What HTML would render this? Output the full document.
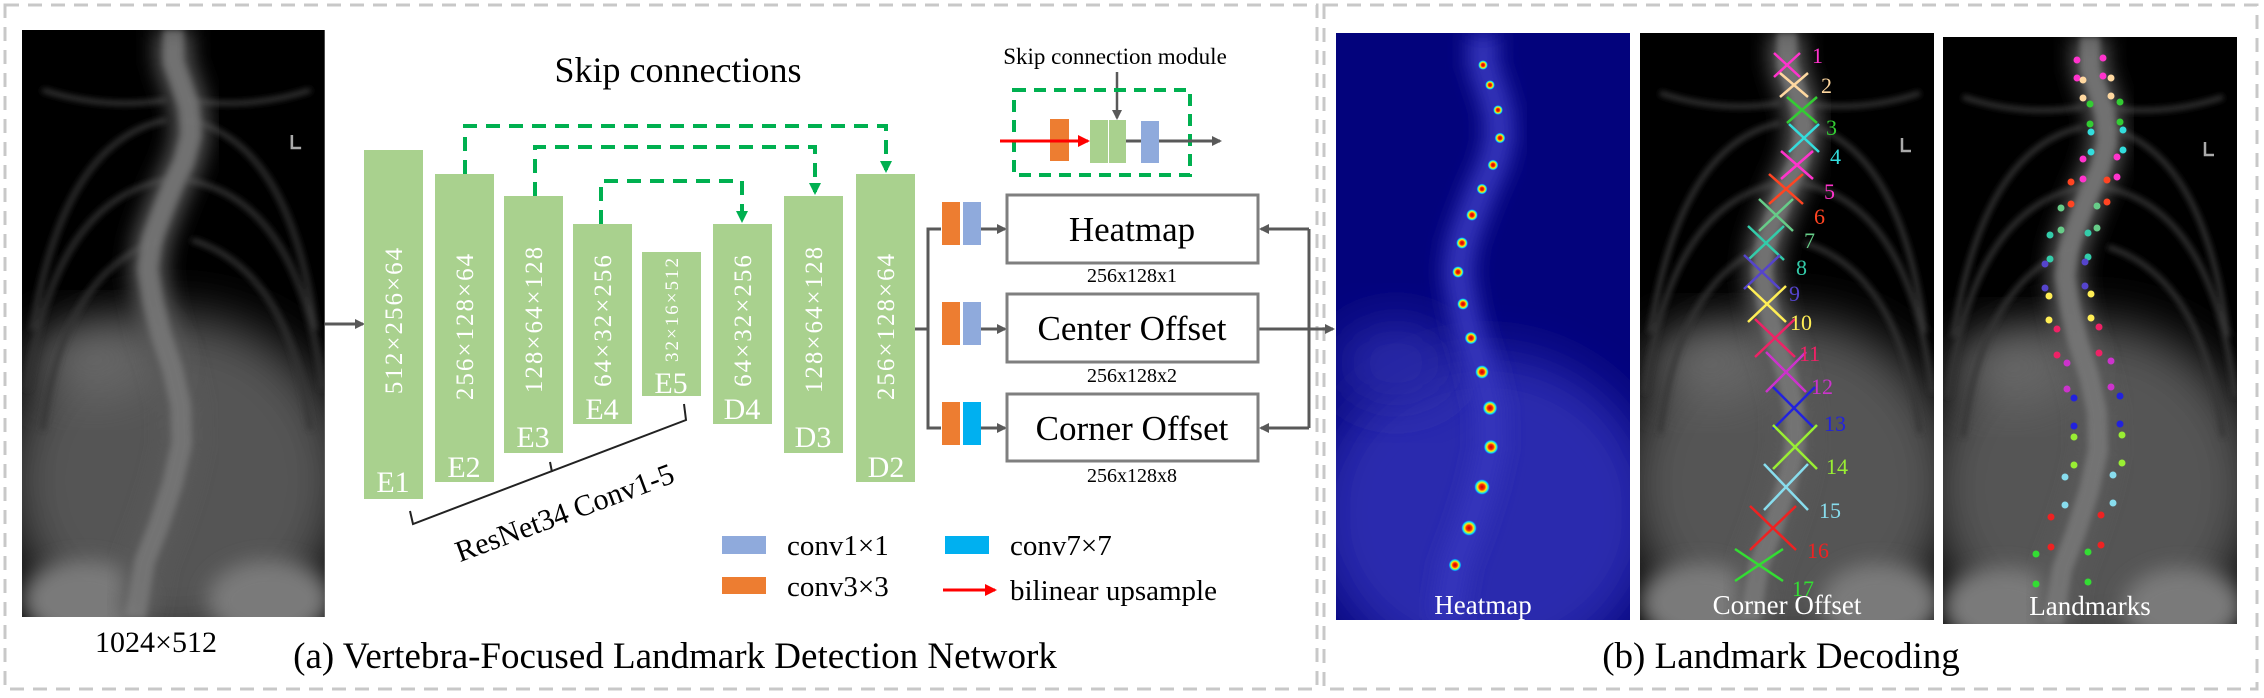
<!DOCTYPE html>
<html><head><meta charset="utf-8"><style>
html,body{margin:0;padding:0;background:#fff;}
svg{display:block;}
text{font-family:"Liberation Serif",serif;}
.s{font-family:"Liberation Sans",sans-serif;}
</style></head><body>
<svg width="2264" height="698" viewBox="0 0 2264 698" xmlns="http://www.w3.org/2000/svg">
<defs>
<filter id="b3" x="-50%" y="-50%" width="200%" height="200%"><feGaussianBlur stdDeviation="3"/></filter>
<filter id="b10" x="-50%" y="-50%" width="200%" height="200%"><feGaussianBlur stdDeviation="10"/></filter>
<filter id="b25" x="-50%" y="-50%" width="200%" height="200%"><feGaussianBlur stdDeviation="25"/></filter>
<clipPath id="cl"><rect x="0" y="0" width="294" height="587"/></clipPath>
<marker id="ag" markerWidth="10" markerHeight="10" refX="8" refY="5" orient="auto" markerUnits="userSpaceOnUse"><path d="M0,0 L10,5 L0,10 z" fill="#595959"/></marker>
<marker id="agr" markerWidth="12" markerHeight="12" refX="9" refY="6" orient="auto" markerUnits="userSpaceOnUse"><path d="M0,0 L12,6 L0,12 z" fill="#00b050"/></marker>
<marker id="ar" markerWidth="12" markerHeight="12" refX="10" refY="6" orient="auto" markerUnits="userSpaceOnUse"><path d="M0,0 L12,6 L0,12 z" fill="#ff0000"/></marker>
<radialGradient id="hd"><stop offset="0" stop-color="#c00000"/><stop offset="0.35" stop-color="#ff3000"/><stop offset="0.55" stop-color="#ffee00"/><stop offset="0.8" stop-color="#00e0ff"/><stop offset="1" stop-color="#2040ff" stop-opacity="0"/></radialGradient>
<g id="xr">
<g clip-path="url(#cl)">
<rect width="294" height="587" fill="#000"/>
<ellipse cx="150" cy="450" rx="165" ry="165" fill="#545454" filter="url(#b25)"/>
<ellipse cx="70" cy="330" rx="60" ry="35" fill="#6a6a6a" filter="url(#b25)"/>
<ellipse cx="60" cy="570" rx="60" ry="40" fill="#7a7a7a" filter="url(#b10)"/>
<ellipse cx="240" cy="570" rx="60" ry="40" fill="#7a7a7a" filter="url(#b10)"/>
<g fill="none" stroke="#363636" stroke-width="5" filter="url(#b3)">
<path d="M140,90 Q40,110 10,300"/><path d="M160,90 Q260,110 285,300"/>
<path d="M140,150 Q30,170 5,360"/><path d="M160,150 Q270,170 292,360"/>
<path d="M135,210 Q40,240 20,400"/><path d="M165,210 Q260,240 280,400"/>
<path d="M20,60 Q80,80 140,70"/><path d="M280,60 Q220,80 160,70"/>
</g>
<path d="M147,0 L147,32 L154,52 L162,77 L164,105 L157,132 L146,156 L136,182 L126,210 L122,239 L127,271 L135,305 L146,339 L154,375 L155,414 L146,454 L133,495 L119,532 L110,587" fill="none" stroke="#5a5a5a" stroke-width="34" filter="url(#b10)"/>
<path d="M147,0 L147,32 L154,52 L162,77 L164,105 L157,132 L146,156 L136,182 L126,210 L122,239 L127,271 L135,305 L146,339 L154,375 L155,414 L146,454 L133,495 L119,532 L110,587" fill="none" stroke="#858585" stroke-width="20" filter="url(#b3)" opacity="0.6"/>
<path d="M262,105 V118 H271" fill="none" stroke="#aaa" stroke-width="2.5"/>
</g>
</g>
</defs>

<rect x="5" y="5" width="1312" height="684" fill="none" stroke="#c8c8c8" stroke-width="3" stroke-dasharray="14,9"/>
<rect x="1324" y="5" width="933" height="684" fill="none" stroke="#c8c8c8" stroke-width="3" stroke-dasharray="14,9"/>

<use href="#xr" transform="translate(22,30) scale(1.03,1)"/>
<text x="156" y="652" font-size="30" text-anchor="middle">1024×512</text>
<line x1="325" y1="324" x2="363" y2="324" stroke="#595959" stroke-width="3" marker-end="url(#ag)"/>

<g fill="#a9d18e">
<rect x="364" y="150" width="59" height="349"/>
<rect x="435" y="174" width="59" height="308"/>
<rect x="504" y="196" width="59" height="257"/>
<rect x="573" y="224" width="59" height="200"/>
<rect x="642" y="252" width="59" height="144"/>
<rect x="713" y="224" width="59" height="200"/>
<rect x="784" y="196" width="59" height="257"/>
<rect x="856" y="174" width="59" height="308"/>
</g>
<g fill="#fff" class="s" font-family="Liberation Sans, sans-serif" font-size="25" text-anchor="middle" letter-spacing="2">
<text transform="translate(402,320) rotate(-90)">512×256×64</text>
<text transform="translate(473,326) rotate(-90)">256×128×64</text>
<text transform="translate(542,319) rotate(-90)">128×64×128</text>
<text transform="translate(611,320) rotate(-90)">64×32×256</text>
<text transform="translate(678,309) rotate(-90)" font-size="19">32×16×512</text>
<text transform="translate(751,320) rotate(-90)">64×32×256</text>
<text transform="translate(822,319) rotate(-90)">128×64×128</text>
<text transform="translate(894,326) rotate(-90)">256×128×64</text>
</g>
<g fill="#fff" font-size="30" text-anchor="middle">
<text x="393" y="492">E1</text>
<text x="464" y="477">E2</text>
<text x="533" y="447">E3</text>
<text x="602" y="419">E4</text>
<text x="671" y="393">E5</text>
<text x="742" y="419">D4</text>
<text x="813" y="447">D3</text>
<text x="886" y="477">D2</text>
</g>

<text x="678" y="82" font-size="36" text-anchor="middle">Skip connections</text>
<g fill="none" stroke="#00b050" stroke-width="4" stroke-dasharray="14,9">
<path d="M465,174 V126 H886 V170" marker-end="url(#agr)"/>
<path d="M535,196 V147 H815 V192" marker-end="url(#agr)"/>
<path d="M601,224 V181 H742 V220" marker-end="url(#agr)"/>
</g>

<text x="1115" y="64" font-size="23" text-anchor="middle">Skip connection module</text>
<line x1="1117" y1="72" x2="1117" y2="118" stroke="#595959" stroke-width="2.5" marker-end="url(#ag)"/>
<rect x="1014" y="90" width="176" height="85" fill="none" stroke="#00b050" stroke-width="4" stroke-dasharray="12,8"/>
<rect x="1050" y="119" width="19" height="42" fill="#ed7d31"/>
<rect x="1090" y="120" width="18" height="43" fill="#a9d18e"/>
<rect x="1109" y="120" width="17" height="43" fill="#a9d18e"/>
<rect x="1141" y="121" width="18" height="42" fill="#8faadc"/>
<line x1="1000" y1="141" x2="1088" y2="141" stroke="#ff0000" stroke-width="3" marker-end="url(#ar)"/>
<line x1="1126" y1="141" x2="1220" y2="141" stroke="#595959" stroke-width="3" marker-end="url(#ag)"/>
<rect x="1141" y="121" width="18" height="42" fill="#8faadc"/>

<g stroke="#595959" stroke-width="3" fill="none">
<line x1="915" y1="329" x2="928" y2="329"/>
<path d="M941,229 H928 V428 H941"/>
<line x1="981" y1="229" x2="1005" y2="229" marker-end="url(#ag)"/>
<line x1="981" y1="329" x2="1005" y2="329" marker-end="url(#ag)"/>
<line x1="981" y1="428" x2="1005" y2="428" marker-end="url(#ag)"/>
<path d="M1309,229 V428"/>
<line x1="1309" y1="229" x2="1261" y2="229" marker-end="url(#ag)"/>
<line x1="1309" y1="428" x2="1261" y2="428" marker-end="url(#ag)"/>
<line x1="1258" y1="329" x2="1333" y2="329" marker-end="url(#ag)"/>
</g>
<g fill="#ed7d31"><rect x="942" y="202" width="18" height="43"/><rect x="942" y="302" width="18" height="43"/><rect x="942" y="402" width="18" height="43"/></g>
<rect x="963" y="202" width="18" height="43" fill="#8faadc"/>
<rect x="963" y="302" width="18" height="43" fill="#8faadc"/>
<rect x="963" y="402" width="18" height="43" fill="#00b0f0"/>
<g fill="#fff" stroke="#7f7f7f" stroke-width="3">
<rect x="1007" y="195" width="251" height="68"/>
<rect x="1007" y="294" width="251" height="68"/>
<rect x="1007" y="394" width="251" height="67"/>
</g>
<g font-size="35" text-anchor="middle">
<text x="1132" y="241">Heatmap</text>
<text x="1132" y="340">Center Offset</text>
<text x="1132" y="440">Corner Offset</text>
</g>
<g font-size="20" text-anchor="middle">
<text x="1132" y="282">256x128x1</text>
<text x="1132" y="382">256x128x2</text>
<text x="1132" y="482">256x128x8</text>
</g>

<path d="M410,511 L413,524 L686,420 L684,404" fill="none" stroke="#222" stroke-width="2"/>
<line x1="552" y1="472" x2="550" y2="462" stroke="#222" stroke-width="2"/>
<text transform="translate(568,522) rotate(-20.4)" font-size="30" text-anchor="middle">ResNet34 Conv1-5</text>

<rect x="722" y="536" width="44" height="18" fill="#8faadc"/>
<text x="787" y="555" font-size="29">conv1×1</text>
<rect x="945" y="536" width="44" height="18" fill="#00b0f0"/>
<text x="1010" y="555" font-size="29">conv7×7</text>
<rect x="722" y="577" width="44" height="17" fill="#ed7d31"/>
<text x="787" y="596" font-size="29">conv3×3</text>
<line x1="943" y1="590" x2="995" y2="590" stroke="#ff0000" stroke-width="3" marker-end="url(#ar)"/>
<text x="1010" y="600" font-size="29">bilinear upsample</text>

<text x="675" y="668" font-size="37" text-anchor="middle">(a) Vertebra-Focused Landmark Detection Network</text>

<g transform="translate(1336,33)">
<g clip-path="url(#cl)">
<rect width="294" height="587" fill="#03037c"/>
<ellipse cx="150" cy="480" rx="170" ry="160" fill="#2a2aae" filter="url(#b25)"/>
<ellipse cx="60" cy="330" rx="60" ry="40" fill="#2a2aa8" filter="url(#b25)"/>
<path d="M147,0 L147,32 L154,52 L162,77 L164,105 L157,132 L146,156 L136,182 L126,210 L122,239 L127,271 L135,305 L146,339 L154,375 L155,414 L146,454 L133,495 L119,532 L110,587" fill="none" stroke="#3434bc" stroke-width="30" filter="url(#b10)"/>
</g>
<g fill="url(#hd)">
<circle cx="147" cy="32" r="5"/><circle cx="154" cy="52" r="5"/><circle cx="162" cy="77" r="5"/><circle cx="164" cy="105" r="5.5"/><circle cx="157" cy="132" r="5.5"/><circle cx="146" cy="156" r="5.5"/><circle cx="136" cy="182" r="6"/><circle cx="126" cy="210" r="6"/><circle cx="122" cy="239" r="6"/><circle cx="127" cy="271" r="6"/><circle cx="135" cy="305" r="6.5"/><circle cx="146" cy="339" r="7"/><circle cx="154" cy="375" r="7.5"/><circle cx="155" cy="414" r="7.5"/><circle cx="146" cy="454" r="8"/><circle cx="133" cy="495" r="8"/><circle cx="119" cy="532" r="6.5"/>
</g>
<text x="147" y="581" font-size="27" fill="#fff" text-anchor="middle">Heatmap</text>
</g>

<g transform="translate(1640,33)">
<use href="#xr"/>
<g stroke-width="2.5" fill="none">
<g stroke="#ff33cc" transform="translate(147,32)"><path d="M-13,-12 L13,12 M-13,12 L13,-12"/></g>
<g stroke="#ffd8a0" transform="translate(154,52)"><path d="M-14,-12 L14,12 M-14,12 L14,-12"/></g>
<g stroke="#33cc33" transform="translate(162,77)"><path d="M-15,-13 L15,13 M-15,13 L15,-13"/></g>
<g stroke="#33dddd" transform="translate(164,105)"><path d="M-15,-14 L15,14 M-15,14 L15,-14"/></g>
<g stroke="#ff33cc" transform="translate(157,132)"><path d="M-16,-14 L16,14 M-16,14 L16,-14"/></g>
<g stroke="#ff4422" transform="translate(146,156)"><path d="M-17,-15 L17,15 M-17,15 L17,-15"/></g>
<g stroke="#66cc88" transform="translate(136,182)"><path d="M-17,-16 L17,16 M-17,16 L17,-16"/></g>
<g stroke="#33ccaa" transform="translate(126,210)"><path d="M-18,-17 L18,17 M-18,17 L18,-17"/></g>
<g stroke="#5544cc" transform="translate(122,239)"><path d="M-18,-17 L18,17 M-18,17 L18,-17"/></g>
<g stroke="#ffee55" transform="translate(127,271)"><path d="M-19,-18 L19,18 M-19,18 L19,-18"/></g>
<g stroke="#ee2266" transform="translate(135,305)"><path d="M-20,-19 L20,19 M-20,19 L20,-19"/></g>
<g stroke="#cc33cc" transform="translate(146,339)"><path d="M-20,-20 L20,20 M-20,20 L20,-20"/></g>
<g stroke="#2222dd" transform="translate(154,375)"><path d="M-21,-21 L21,21 M-21,21 L21,-21"/></g>
<g stroke="#99ee33" transform="translate(155,414)"><path d="M-22,-22 L22,22 M-22,22 L22,-22"/></g>
<g stroke="#88ddee" transform="translate(146,454)"><path d="M-22,-23 L22,23 M-22,23 L22,-23"/></g>
<g stroke="#ee2222" transform="translate(133,495)"><path d="M-23,-22 L23,22 M-23,22 L23,-22"/></g>
<g stroke="#33dd33" transform="translate(119,532)"><path d="M-24,-16 L24,16 M-24,16 L24,-16"/></g>
</g>
<g class="s" font-family="Liberation Sans, sans-serif" font-size="22">
<text x="172" y="30" fill="#ff33cc">1</text>
<text x="181" y="60" fill="#ffd8a0">2</text>
<text x="186" y="102" fill="#33cc33">3</text>
<text x="190" y="131" fill="#33dddd">4</text>
<text x="184" y="166" fill="#ff33cc">5</text>
<text x="174" y="191" fill="#ff4422">6</text>
<text x="164" y="215" fill="#66cc88">7</text>
<text x="156" y="242" fill="#33ccaa">8</text>
<text x="149" y="268" fill="#5544cc">9</text>
<text x="150" y="297" fill="#ffee55">10</text>
<text x="159" y="328" fill="#ee2266">11</text>
<text x="171" y="361" fill="#cc33cc">12</text>
<text x="184" y="398" fill="#2222dd">13</text>
<text x="186" y="441" fill="#99ee33">14</text>
<text x="179" y="485" fill="#88ddee">15</text>
<text x="167" y="525" fill="#ee2222">16</text>
<text x="152" y="563" fill="#33dd33">17</text>
</g>
<text x="147" y="581" font-size="27" fill="#fff" text-anchor="middle">Corner Offset</text>
</g>

<g transform="translate(1943,37)">
<use href="#xr"/>
<g>
<g fill="#ff33cc" transform="translate(147,32)"><circle cx="-13" cy="-9" r="3.5"/><circle cx="13" cy="-11" r="3.5"/><circle cx="-13" cy="9" r="3.5"/><circle cx="13" cy="7" r="3.5"/></g>
<g fill="#ffd8a0" transform="translate(154,52)"><circle cx="-14" cy="-9" r="3.5"/><circle cx="14" cy="-11" r="3.5"/><circle cx="-14" cy="9" r="3.5"/><circle cx="14" cy="7" r="3.5"/></g>
<g fill="#33cc33" transform="translate(162,77)"><circle cx="-15" cy="-10" r="3.5"/><circle cx="15" cy="-12" r="3.5"/><circle cx="-15" cy="10" r="3.5"/><circle cx="15" cy="8" r="3.5"/></g>
<g fill="#33dddd" transform="translate(164,105)"><circle cx="-16" cy="-10" r="3.5"/><circle cx="16" cy="-12" r="3.5"/><circle cx="-16" cy="10" r="3.5"/><circle cx="16" cy="8" r="3.5"/></g>
<g fill="#ff33cc" transform="translate(157,132)"><circle cx="-17" cy="-10" r="3.5"/><circle cx="17" cy="-12" r="3.5"/><circle cx="-17" cy="10" r="3.5"/><circle cx="17" cy="8" r="3.5"/></g>
<g fill="#ff4422" transform="translate(146,156)"><circle cx="-18" cy="-11" r="3.5"/><circle cx="18" cy="-13" r="3.5"/><circle cx="-18" cy="11" r="3.5"/><circle cx="18" cy="9" r="3.5"/></g>
<g fill="#66cc88" transform="translate(136,182)"><circle cx="-18" cy="-11" r="3.5"/><circle cx="18" cy="-13" r="3.5"/><circle cx="-18" cy="11" r="3.5"/><circle cx="18" cy="9" r="3.5"/></g>
<g fill="#33ccaa" transform="translate(126,210)"><circle cx="-19" cy="-12" r="3.5"/><circle cx="19" cy="-14" r="3.5"/><circle cx="-19" cy="12" r="3.5"/><circle cx="19" cy="10" r="3.5"/></g>
<g fill="#5544cc" transform="translate(122,239)"><circle cx="-20" cy="-12" r="3.5"/><circle cx="20" cy="-14" r="3.5"/><circle cx="-20" cy="12" r="3.5"/><circle cx="20" cy="10" r="3.5"/></g>
<g fill="#ffee55" transform="translate(127,271)"><circle cx="-21" cy="-12" r="3.5"/><circle cx="21" cy="-14" r="3.5"/><circle cx="-21" cy="12" r="3.5"/><circle cx="21" cy="10" r="3.5"/></g>
<g fill="#ee2266" transform="translate(135,305)"><circle cx="-21" cy="-13" r="3.5"/><circle cx="21" cy="-15" r="3.5"/><circle cx="-21" cy="13" r="3.5"/><circle cx="21" cy="11" r="3.5"/></g>
<g fill="#cc33cc" transform="translate(146,339)"><circle cx="-22" cy="-13" r="3.5"/><circle cx="22" cy="-15" r="3.5"/><circle cx="-22" cy="13" r="3.5"/><circle cx="22" cy="11" r="3.5"/></g>
<g fill="#2222dd" transform="translate(154,375)"><circle cx="-23" cy="-14" r="3.5"/><circle cx="23" cy="-16" r="3.5"/><circle cx="-23" cy="14" r="3.5"/><circle cx="23" cy="12" r="3.5"/></g>
<g fill="#99ee33" transform="translate(155,414)"><circle cx="-24" cy="-14" r="3.5"/><circle cx="24" cy="-16" r="3.5"/><circle cx="-24" cy="14" r="3.5"/><circle cx="24" cy="12" r="3.5"/></g>
<g fill="#88ddee" transform="translate(146,454)"><circle cx="-24" cy="-14" r="3.5"/><circle cx="24" cy="-16" r="3.5"/><circle cx="-24" cy="14" r="3.5"/><circle cx="24" cy="12" r="3.5"/></g>
<g fill="#ee2222" transform="translate(133,495)"><circle cx="-25" cy="-15" r="3.5"/><circle cx="25" cy="-17" r="3.5"/><circle cx="-25" cy="15" r="3.5"/><circle cx="25" cy="13" r="3.5"/></g>
<g fill="#33dd33" transform="translate(119,532)"><circle cx="-26" cy="-15" r="3.5"/><circle cx="26" cy="-17" r="3.5"/><circle cx="-26" cy="15" r="3.5"/><circle cx="26" cy="13" r="3.5"/></g>
</g>
<text x="147" y="578" font-size="27" fill="#fff" text-anchor="middle">Landmarks</text>
</g>

<text x="1781" y="668" font-size="37" text-anchor="middle">(b) Landmark Decoding</text>
</svg>
</body></html>
